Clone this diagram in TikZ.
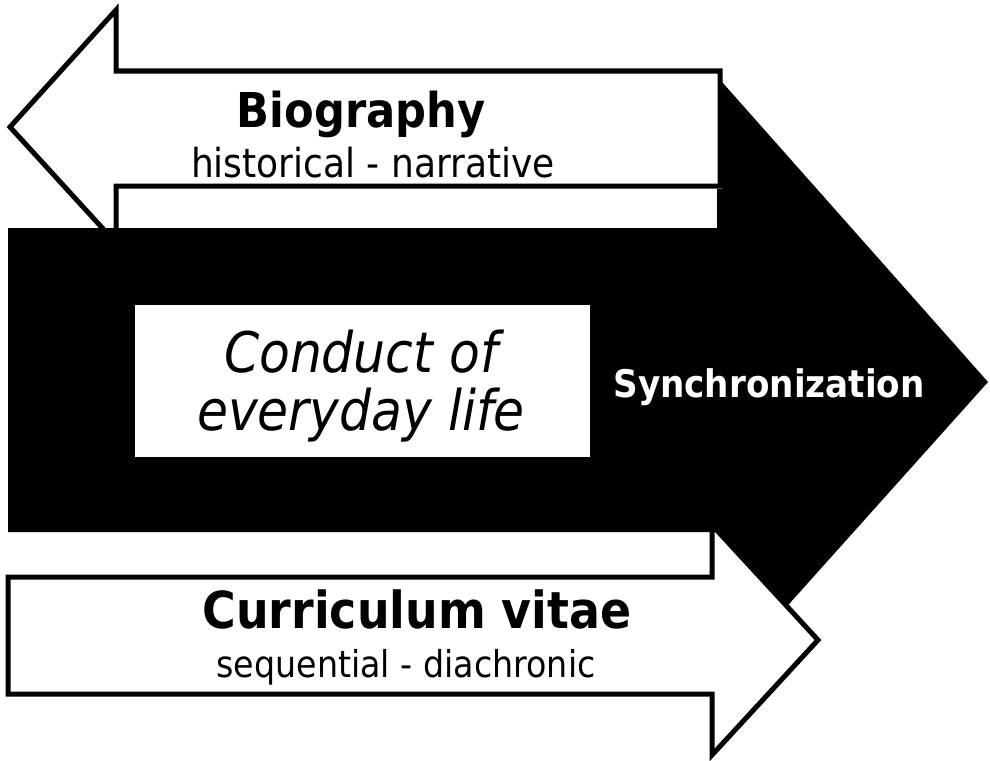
\documentclass[tikz,border=0pt]{standalone}
\usepackage{fontspec}
\setmainfont{DejaVu Sans}[FakeStretch=0.9]
\begin{document}
\begin{tikzpicture}[x=1pt,y=-1pt,
  outl/.style={draw=black,line width=5pt,fill=white,line join=miter},
  title/.style={font=\bfseries\fontsize{#1}{#1}\selectfont,inner sep=0pt,anchor=base},
  sub/.style={font=\fontsize{#1}{#1}\selectfont,inner sep=0pt,anchor=base}]
\useasboundingbox (0,0) rectangle (990,760);
% top arrow (Biography)
\draw[outl] (10,127) -- (116,10) -- (116,71) -- (720,71) -- (720,186) -- (116,186) -- (116,243) -- cycle;
% big black arrow (Synchronization)
\fill[black] (8,228) -- (717,228) -- (717,189) -- (722,189) -- (722,82) -- (988,382) -- (712,690) -- (712,532) -- (8,532) -- cycle;
% bottom arrow (Curriculum vitae)
\draw[outl] (8,577) -- (712,577) -- (712,525) -- (818,640) -- (712,755) -- (712,694) -- (8,694) -- cycle;
% inner white box
\node (lifebox) [fill=white,inner sep=0pt,minimum width=455pt,minimum height=152pt] at (362.5,381) {};
\node (life) [font=\itshape\fontsize{56}{58}\selectfont,align=center,inner sep=0pt] at (361,386) {Conduct of\\everyday life};
% labels
\node (bio) [title=48] at (361,127) {Biography};
\node (hist) [sub=40] at (373,177) {historical - narrative};
\node (sync) [title=38,text=white] at (769,397) {Synchronization};
\node (cv) [title=51] at (417,628) {Curriculum vitae};
\node (seq) [sub=37] at (406,677) {sequential - diachronic};
\end{tikzpicture}
\end{document}
